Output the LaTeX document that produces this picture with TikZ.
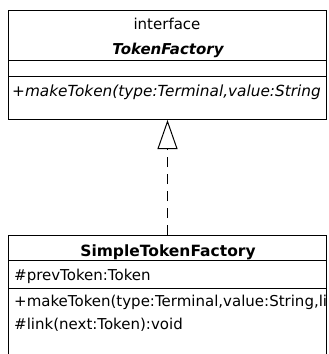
\documentclass[tikz,border=0pt]{standalone}
\usepackage{fontspec}
\setmainfont{DejaVu Sans}
\usetikzlibrary{arrows.meta}
\tikzset{
  classbox/.style={draw=black, line width=1pt, fill=white, inner sep=0pt, anchor=north west},
  sepline/.style={draw=black, line width=1pt},
  txt/.style={inner sep=0pt, font=\fontsize{15}{18}\selectfont},
  realize/.style={draw=black, line width=1pt, dash pattern=on 10pt off 7pt,
    -{Triangle[open, length=29pt, width=20pt, line width=1pt]}}
}
\begin{document}
\begin{tikzpicture}[x=1pt, y=-1pt]
\clip (0,0) rectangle (329,354);
\fill[white] (0,0) rectangle (329,354);
% interface box
\node[classbox, minimum width=318pt, minimum height=109pt] (iface) at (8,10) {};
\draw[sepline] (8,60) -- (326,60);
\draw[sepline] (8,76) -- (326,76);
% implementing class box
\node[classbox, minimum width=318pt, minimum height=140pt] (impl) at (8,235) {};
\draw[sepline] (8,260) -- (326,260);
\draw[sepline] (8,288) -- (326,288);
% realization
\draw[realize] (impl.north) -- (iface.south);
% texts
\begin{scope}
\clip (8,10) rectangle (325.5,354);
\node[txt, anchor=base] (st) at (167,29) {interface};
\node[txt, anchor=base, font=\fontsize{15}{18}\selectfont\bfseries\itshape] (in) at (168,54) {TokenFactory};
\node[txt, anchor=base west, font=\fontsize{15.3}{18}\selectfont\itshape] (op1) at (12,96) {+makeToken(type:Terminal,value:String};
\node[txt, anchor=base, font=\fontsize{15.5}{18}\selectfont\bfseries] (cn) at (168,256) {SimpleTokenFactory};
\node[txt, anchor=base west] (at1) at (14,280) {\#prevToken:Token};
\node[txt, anchor=base west] (op2) at (14,306) {+makeToken(type:Terminal,value:String,li};
\node[txt, anchor=base west] (op3) at (14,329) {\#link(next:Token):void};
\end{scope}
\end{tikzpicture}
\end{document}
